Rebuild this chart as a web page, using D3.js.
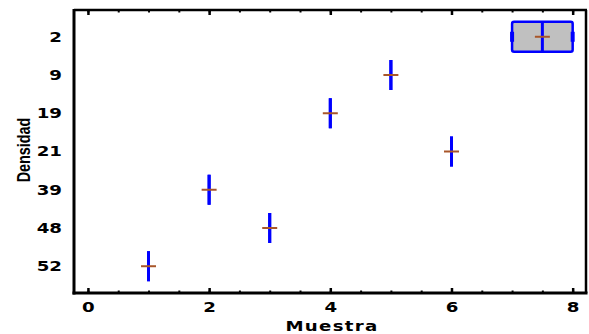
<!DOCTYPE html>
<html>
<head>
<meta charset="utf-8">
<script src="https://cdn.jsdelivr.net/npm/d3@7"></script>
<style>
  body { margin: 0; background: #fff; }
  svg { display: block; }
</style>
</head>
<body>
<svg id="chart" width="589" height="334"></svg>
<script>
// density categories (y) and the sample numbers observed in each
const categories = ["2", "9", "19", "21", "39", "48", "52"];
const samples = [[7, 8], [5], [4], [6], [2], [3], [1]];
const xTicks = [0, 2, 4, 6, 8];
const xLabel = "Muestra";
const yLabel = "Densidad";

const width = 589;
const height = 334;
const plot = { left: 74, right: 586, top: 10, bottom: 293 };

const blue = "#0000ff";
const meanColor = "#a8562a";
const boxFill = "#c0c0c0";

const svg = d3.select("#chart");

const x = d3.scaleLinear().domain([-0.23, 8.22]).range([plot.left, plot.right]);
const y = d3.scalePoint().domain(categories).range([plot.top, plot.bottom]).padding(0.7);

// tukey hinges
function hinges(v) {
  const s = v.slice().sort(d3.ascending);
  const n = s.length;
  const half = Math.floor((n + 1) / 2);
  const lower = s.slice(0, half);
  const upper = s.slice(n - half);
  return [d3.median(lower), d3.median(s), d3.median(upper)];
}

const stats = categories.map((c, i) => {
  const v = samples[i];
  const [q1, med, q3] = hinges(v);
  return { cat: c, min: d3.min(v), max: d3.max(v), q1, med, q3, mean: d3.mean(v) };
});

const boxH = 30;

// x axis bottom, ticks inside
const xAxis = svg.append("g").attr("transform", `translate(0,${plot.bottom})`);
xAxis.call(d3.axisBottom(x).tickValues(d3.range(0, 8.01, 0.5)).tickSize(-2.5).tickFormat(""));
xAxis.call((g) => g.select(".domain").remove());
const xMajor = svg.append("g").attr("transform", `translate(0,${plot.bottom})`);
xMajor.call(d3.axisBottom(x).tickValues(xTicks).tickSize(-5).tickPadding(9).tickFormat(d3.format("d")));
xMajor.select(".domain").remove();
xMajor.selectAll(".tick line").attr("stroke-width", 2.5);
xMajor.selectAll("text")
  .attr("font-family", "DejaVu Sans, sans-serif")
  .attr("font-weight", "bold")
  .attr("font-size", 14)
  .attr("fill", "#000")
  .attr("transform", "scale(1.3,1)");

// top axis ticks
const topMinor = svg.append("g").attr("transform", `translate(0,${plot.top})`);
topMinor.call(d3.axisTop(x).tickValues(d3.range(0, 8.01, 0.5)).tickSize(-2.5).tickFormat(""));
topMinor.select(".domain").remove();
const topMajor = svg.append("g").attr("transform", `translate(0,${plot.top})`);
topMajor.call(d3.axisTop(x).tickValues(xTicks).tickSize(-5).tickFormat(""));
topMajor.select(".domain").remove();
topMajor.selectAll(".tick line").attr("stroke-width", 2.5);
svg.selectAll(".tick line").filter(function () { return !this.getAttribute("stroke-width"); })
  .attr("stroke-width", 2);

// y axis labels
const yAxis = svg.append("g").attr("transform", `translate(${plot.left},0)`);
yAxis.call(d3.axisLeft(y).tickSize(0).tickPadding(0));
yAxis.select(".domain").remove();
yAxis.selectAll("text")
  .attr("x", 0)
  .attr("font-family", "DejaVu Sans, sans-serif")
  .attr("font-weight", "bold")
  .attr("font-size", 14)
  .attr("fill", "#000")
  .attr("transform", "translate(-12,0) scale(1.3,1)");

// frame
const frame = svg.append("g").attr("id", "frame");
frame.append("line").attr("x1", plot.left).attr("x2", plot.right + 1)
  .attr("y1", plot.top).attr("y2", plot.top).attr("stroke", "#000").attr("stroke-width", 2.5);
frame.append("line").attr("x1", plot.right).attr("x2", plot.right)
  .attr("y1", plot.top).attr("y2", plot.bottom).attr("stroke", "#000").attr("stroke-width", 2.5);
frame.append("line").attr("x1", plot.left).attr("x2", plot.left)
  .attr("y1", plot.top - 1).attr("y2", plot.bottom + 1.5).attr("stroke", "#000").attr("stroke-width", 3);
frame.append("line").attr("x1", plot.left - 1.5).attr("x2", plot.right + 1.5)
  .attr("y1", plot.bottom).attr("y2", plot.bottom).attr("stroke", "#000").attr("stroke-width", 3);

// boxes
const viz = svg.append("g").attr("id", "viz");
const groups = viz.selectAll("g.box").data(stats).join("g").attr("class", "box");

groups.filter((d) => d.q3 > d.q1)
  .append("rect")
  .attr("x", (d) => x(d.q1))
  .attr("width", (d) => x(d.q3) - x(d.q1))
  .attr("y", (d) => y(d.cat) - boxH / 2)
  .attr("height", boxH)
  .attr("rx", 2)
  .attr("fill", boxFill)
  .attr("stroke", blue)
  .attr("stroke-width", 2.5);

groups.filter((d) => d.q3 === d.q1)
  .append("line")
  .attr("x1", (d) => x(d.q1)).attr("x2", (d) => x(d.q1))
  .attr("y1", (d) => y(d.cat) - boxH / 2).attr("y2", (d) => y(d.cat) + boxH / 2)
  .attr("stroke", blue).attr("stroke-width", 3);

// median
groups.append("line")
  .attr("x1", (d) => x(d.med)).attr("x2", (d) => x(d.med))
  .attr("y1", (d) => y(d.cat) - boxH / 2).attr("y2", (d) => y(d.cat) + boxH / 2)
  .attr("stroke", blue).attr("stroke-width", 3);

// whisker caps (only visible where the box has width)
groups.filter((d) => d.max > d.min)
  .selectAll("line.cap")
  .data((d) => [{ v: d.min, c: d.cat }, { v: d.max, c: d.cat }])
  .join("line")
  .attr("class", "cap")
  .attr("x1", (d) => x(d.v)).attr("x2", (d) => x(d.v))
  .attr("y1", (d) => y(d.c) - 5).attr("y2", (d) => y(d.c) + 5)
  .attr("stroke", blue).attr("stroke-width", 4);

// mean marker
groups.append("line")
  .attr("x1", (d) => x(d.mean) - 7.5).attr("x2", (d) => x(d.mean) + 7.5)
  .attr("y1", (d) => y(d.cat)).attr("y2", (d) => y(d.cat))
  .attr("stroke", meanColor).attr("stroke-width", 2);

// axis titles
svg.append("text")
  .attr("transform", `translate(${(plot.left + plot.right) / 2 + 2},331) scale(1.3,1)`)
  .attr("text-anchor", "middle")
  .attr("font-family", "DejaVu Sans, sans-serif")
  .attr("font-weight", "bold")
  .attr("font-size", 14)
  .attr("letter-spacing", 1)
  .attr("fill", "#000")
  .text(xLabel);

svg.append("text")
  .attr("transform", "translate(30,150) rotate(-90) scale(0.8,1)")
  .attr("text-anchor", "middle")
  .attr("font-family", "Liberation Sans, Arial, sans-serif")
  .attr("font-weight", "bold")
  .attr("font-size", 18)
  .attr("fill", "#000")
  .text(yLabel);
</script>
</body>
</html>
